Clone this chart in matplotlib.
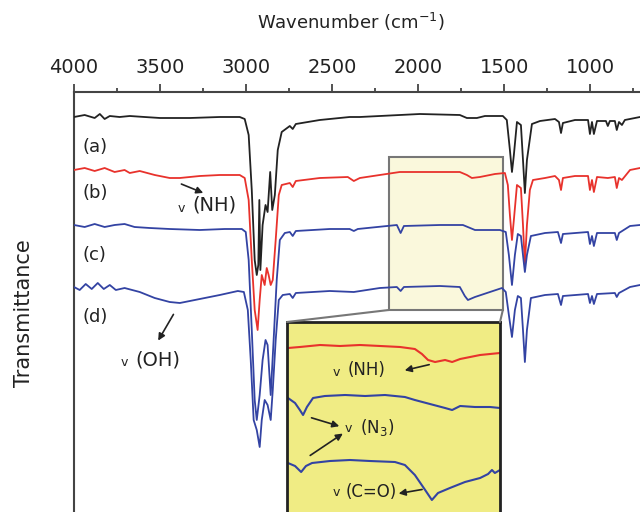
import matplotlib
matplotlib.use("Agg")
import matplotlib.pyplot as plt
from matplotlib.patches import Rectangle, ConnectionPatch

# main spectra: wavenumber (cm-1) and stacked transmittance (a.u.)
wn_a = [4000, 3938, 3880, 3850, 3822, 3792, 3735, 3676, 3590, 3500, 3326, 3153, 3037, 3008, 2985, 2967,
        2950, 2938, 2929, 2923, 2917, 2904, 2887, 2875, 2860, 2848, 2833, 2816, 2793, 2746, 2729, 2711,
        2572, 2398, 2339, 1990, 1758, 1717, 1659, 1612, 1508, 1485, 1467, 1455, 1444, 1426, 1403, 1391,
        1380, 1368, 1339, 1292, 1205, 1182, 1170, 1159, 1089, 1013, 1002, 990, 979, 961, 909, 898, 886,
        857, 846, 833, 816, 799, 711]
t_a = [3.95, 3.97, 3.94, 3.98, 3.93, 3.96, 3.95, 3.96, 3.95, 3.94, 3.94, 3.95, 3.95, 3.93, 3.77, 3.22,
       2.52, 2.37, 2.47, 3.12, 2.42, 2.87, 3.07, 3.00, 3.40, 3.02, 3.17, 3.62, 3.80, 3.86, 3.83, 3.88,
       3.92, 3.95, 3.95, 3.98, 3.97, 3.94, 3.94, 3.96, 3.96, 3.92, 3.62, 3.40, 3.57, 3.90, 3.87, 3.52,
       3.19, 3.52, 3.88, 3.91, 3.93, 3.90, 3.79, 3.89, 3.92, 3.92, 3.78, 3.90, 3.78, 3.91, 3.91, 3.86, 3.91,
       3.91, 3.82, 3.90, 3.87, 3.92, 3.95]

wn_b = [4000, 3938, 3880, 3822, 3764, 3706, 3676, 3618, 3531, 3444, 3385, 3269, 3153, 3037, 3008, 2985,
        2967, 2950, 2933, 2921, 2909, 2892, 2880, 2869, 2857, 2845, 2828, 2810, 2793, 2746, 2729, 2711,
        2572, 2409, 2374, 2339, 2107, 1758, 1717, 1688, 1641, 1554, 1496, 1479, 1467, 1455, 1444, 1426,
        1403, 1391, 1380, 1368, 1351, 1333, 1263, 1205, 1182, 1170, 1159, 1089, 1013, 1002, 990, 979, 961,
        898, 857, 846, 833, 816, 769, 711]
t_b = [3.42, 3.44, 3.41, 3.44, 3.40, 3.42, 3.39, 3.41, 3.37, 3.34, 3.34, 3.36, 3.37, 3.37, 3.34, 3.12,
       2.52, 2.02, 1.82, 2.12, 2.37, 2.27, 2.44, 2.37, 2.27, 2.32, 2.72, 3.17, 3.27, 3.29, 3.25, 3.31,
       3.34, 3.35, 3.31, 3.34, 3.40, 3.40, 3.37, 3.34, 3.35, 3.38, 3.39, 3.27, 2.97, 2.72, 2.92, 3.27,
       3.24, 2.87, 2.47, 2.87, 3.22, 3.32, 3.34, 3.36, 3.32, 3.22, 3.34, 3.36, 3.36, 3.22, 3.32, 3.20, 3.35,
       3.34, 3.35, 3.24, 3.34, 3.32, 3.42, 3.44]

wn_c = [4000, 3938, 3880, 3822, 3764, 3706, 3648, 3560, 3444, 3269, 3124, 3025, 3002, 2985, 2967, 2950,
        2938, 2921, 2904, 2887, 2875, 2857, 2840, 2822, 2804, 2775, 2746, 2729, 2711, 2514, 2398, 2374,
        2351, 2124, 2102, 2083, 1874, 1740, 1670, 1525, 1491, 1473, 1455, 1438, 1421, 1403, 1391, 1380,
        1368, 1345, 1263, 1188, 1170, 1159, 1013, 1002, 990, 979, 961, 857, 846, 833, 769, 711]
t_c = [2.87, 2.85, 2.88, 2.85, 2.87, 2.88, 2.85, 2.84, 2.83, 2.82, 2.83, 2.83, 2.80, 2.52, 1.82, 1.12,
       0.92, 1.17, 1.52, 1.72, 1.67, 1.17, 1.72, 2.32, 2.72, 2.79, 2.80, 2.76, 2.81, 2.83, 2.83, 2.81,
       2.83, 2.87, 2.79, 2.86, 2.87, 2.87, 2.82, 2.82, 2.80, 2.57, 2.27, 2.57, 2.78, 2.76, 2.57, 2.40,
       2.57, 2.76, 2.79, 2.80, 2.69, 2.78, 2.80, 2.68, 2.76, 2.66, 2.79, 2.79, 2.72, 2.79, 2.86, 2.87]

wn_d = [4000, 3967, 3932, 3897, 3862, 3827, 3792, 3757, 3706, 3618, 3531, 3444, 3385, 3269, 3153, 3048,
        3013, 2990, 2973, 2956, 2938, 2921, 2909, 2892, 2875, 2857, 2845, 2828, 2810, 2787, 2746, 2729,
        2711, 2514, 2374, 2223, 2124, 2102, 2083, 1874, 1758, 1729, 1711, 1670, 1583, 1513, 1491, 1473,
        1455, 1438, 1421, 1403, 1391, 1380, 1368, 1345, 1263, 1188, 1170, 1159, 1013, 1002, 990, 979, 961,
        857, 846, 833, 769, 711]
t_d = [2.25, 2.22, 2.28, 2.23, 2.29, 2.23, 2.27, 2.22, 2.24, 2.20, 2.14, 2.10, 2.09, 2.13, 2.17, 2.21,
       2.20, 2.02, 1.52, 0.92, 0.82, 0.65, 0.92, 1.12, 1.07, 0.92, 1.22, 1.72, 2.12, 2.17, 2.18, 2.14,
       2.19, 2.21, 2.20, 2.24, 2.25, 2.21, 2.25, 2.26, 2.25, 2.16, 2.12, 2.15, 2.20, 2.24, 2.20, 1.97,
       1.75, 2.02, 2.16, 2.14, 1.82, 1.50, 1.82, 2.14, 2.17, 2.18, 2.07, 2.16, 2.18, 2.09, 2.16, 2.08, 2.18,
       2.19, 2.15, 2.19, 2.25, 2.27]

# zoomed region (inset), own vertical scale
wn_in_b = [2168, 2131, 2068, 2006, 1944, 1881, 1819, 1773, 1751, 1732, 1710, 1679, 1657, 1632, 1601, 1570, 1539, 1508]
t_in_b = [1.64, 1.65, 1.67, 1.66, 1.67, 1.66, 1.65, 1.63, 1.58, 1.52, 1.50, 1.52, 1.50, 1.53, 1.55, 1.57, 1.58, 1.59]
wn_in_c = [2168, 2146, 2131, 2121, 2109, 2090, 2053, 1990, 1928, 1866, 1804, 1773, 1726, 1679, 1657, 1632, 1586, 1539, 1508]
t_in_c = [1.14, 1.09, 1.02, 0.97, 1.05, 1.14, 1.16, 1.17, 1.16, 1.17, 1.15, 1.12, 1.08, 1.04, 1.02, 1.06, 1.05, 1.05, 1.04]
wn_in_d = [2168, 2146, 2127, 2112, 2093, 2037, 1975, 1913, 1835, 1804, 1773, 1741, 1720, 1701, 1664, 1617, 1570, 1545, 1533, 1524, 1508]
t_in_d = [0.49, 0.46, 0.40, 0.46, 0.49, 0.51, 0.52, 0.51, 0.50, 0.47, 0.37, 0.22, 0.12, 0.19, 0.24, 0.30, 0.34, 0.38, 0.42, 0.39, 0.42]

BLACK = '#222222'
RED = '#e8322c'
BLUE = '#3343a3'
TXT = '#222222'

fig = plt.figure(figsize=(6.4, 5.12), dpi=100)
ax = fig.add_axes([74 / 640, 0, 1 - 74 / 640, 1 - 92 / 512])

ax.plot(wn_a, t_a, color=BLACK, lw=1.3, zorder=3)
ax.plot(wn_b, t_b, color=RED, lw=1.3, zorder=3)
ax.plot(wn_c, t_c, color=BLUE, lw=1.3, zorder=3)
ax.plot(wn_d, t_d, color=BLUE, lw=1.3, zorder=3)

ax.set_xlim(4000, 711)
ax.set_ylim(0, 4.2)
ax.set_xticks([4000, 3500, 3000, 2500, 2000, 1500, 1000])
ax.set_xticks([3750, 3250, 2750, 2250, 1750, 1250, 750], minor=True)
ax.xaxis.tick_top()
ax.tick_params(axis='x', which='major', length=6, width=1.3, pad=5, labelsize=14,
               colors='#444444', labelcolor=TXT)
ax.tick_params(axis='x', which='minor', length=3, width=1.3, colors='#444444')
ax.set_yticks([])
for s in ['right', 'bottom']:
    ax.spines[s].set_visible(False)
for s in ['left', 'top']:
    ax.spines[s].set_color('#444444')
    ax.spines[s].set_linewidth(1.5)

fig.text(351 / 640, 1 - 22 / 512, r'Wavenumber (cm$^{-1}$)', ha='center', va='center',
         fontsize=13, color=TXT)
fig.text(24 / 640, 1 - 313 / 512, 'Transmittance', rotation=90, ha='center', va='center',
         fontsize=15, color=TXT)

# highlighted region
ax.add_patch(Rectangle((2171, 2.02), 1508 - 2171, 3.55 - 2.02, facecolor='#faf8dc',
                       edgecolor='#777777', lw=1.5, zorder=1))

# curve labels
for lab, y in [('(a)', 3.65), ('(b)', 3.19), ('(c)', 2.57), ('(d)', 1.95)]:
    ax.text(3949, y, lab, fontsize=13, color=TXT, va='center', ha='left')

arrow = dict(arrowstyle='-|>', color=BLACK, lw=1.2, mutation_scale=10)

ax.annotate('', xy=(3234, 3.18), xytext=(3391, 3.29), arrowprops=arrow)
ax.text(3374, 3.04, 'v', fontsize=9, color=TXT, ha='center', va='center')
ax.text(3310, 3.07, '(NH)', fontsize=14, color=TXT, ha='left', va='center')

ax.annotate('', xy=(3519, 1.69), xytext=(3414, 2.00), arrowprops=arrow)
ax.text(3705, 1.50, 'v', fontsize=9, color=TXT, ha='center', va='center')
ax.text(3641, 1.52, '(OH)', fontsize=14, color=TXT, ha='left', va='center')

# inset with zoomed region
axin = fig.add_axes([287 / 640, 0, 213 / 640, 1 - 322 / 512])
axin.set_facecolor('#f0ec84')
axin.plot(wn_in_b, t_in_b, color=RED, lw=1.5)
axin.plot(wn_in_c, t_in_c, color=BLUE, lw=1.5)
axin.plot(wn_in_d, t_in_d, color=BLUE, lw=1.5)
axin.set_xlim(2171, 1508)
axin.set_ylim(0, 1.9)
axin.set_xticks([])
axin.set_yticks([])
axin.spines['bottom'].set_visible(False)
for s in ['left', 'top', 'right']:
    axin.spines[s].set_linewidth(2)
    axin.spines[s].set_color('#222222')

axin.annotate('', xy=(1813, 1.41), xytext=(1720, 1.48), arrowprops=arrow)
axin.text(2016, 1.40, 'v', fontsize=9, color=TXT, ha='center', va='center')
axin.text(1981, 1.42, '(NH)', fontsize=12, color=TXT, ha='left', va='center')

axin.annotate('', xy=(2000, 0.85), xytext=(2103, 0.95), arrowprops=arrow)
axin.annotate('', xy=(1990, 0.80), xytext=(2106, 0.55), arrowprops=arrow)
axin.text(1981, 0.84, 'v', fontsize=9, color=TXT, ha='center', va='center')
axin.text(1944, 0.85, r'(N$_3$)', fontsize=12, color=TXT, ha='left', va='center')

axin.annotate('', xy=(1832, 0.18), xytext=(1742, 0.23), arrowprops=arrow)
axin.text(2016, 0.19, 'v', fontsize=9, color=TXT, ha='center', va='center')
axin.text(1990, 0.20, '(C=O)', fontsize=12, color=TXT, ha='left', va='center')

# connectors from highlighted box to inset
for xb, xf in [(2171, 0), (1508, 1)]:
    con = ConnectionPatch(xyA=(xb, 2.02), coordsA=ax.transData,
                          xyB=(xf, 1), coordsB=axin.transAxes,
                          color='#777777', lw=1.5)
    fig.add_artist(con)

fig.savefig('out.png', dpi=100)
